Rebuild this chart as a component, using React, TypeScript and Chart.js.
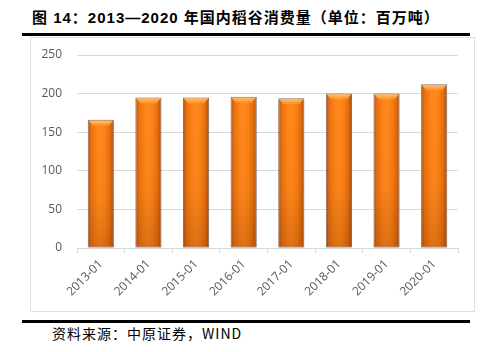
import React, { useEffect, useRef } from "react";
import { Chart, registerables } from "chart.js";

Chart.register(...registerables);

const categories = ["2013-01", "2014-01", "2015-01", "2016-01", "2017-01", "2018-01", "2019-01", "2020-01"];
const consumption = [166, 195, 195, 196, 194, 200, 200, 212];
const yTicks = [0, 50, 100, 150, 200, 250];

const titleText = "图 14：2013—2020 年国内稻谷消费量（单位：百万吨）";
const sourceText = "资料来源：中原证券，WIND";

const BAR_RATIO = 0.55;

const bevelPlugin = {
  id: "bevel",
  afterDatasetsDraw(chart: any) {
    const ctx = chart.ctx;
    const meta = chart.getDatasetMeta(0);
    meta.data.forEach((bar: any) => {
      const { x, y, base, width } = bar.getProps(["x", "y", "base", "width"], true);
      const l = x - width / 2 + 1;
      const r = x + width / 2 - 1;
      ctx.save();
      const vg = ctx.createLinearGradient(0, y, 0, base);
      vg.addColorStop(0, "rgba(120,50,0,0)");
      vg.addColorStop(0.6, "rgba(120,50,0,0.05)");
      vg.addColorStop(1, "rgba(110,40,0,0.25)");
      ctx.fillStyle = vg;
      ctx.fillRect(l, y + 1, r - l, base - y - 1);
      const cap = 5;
      const hg = ctx.createLinearGradient(0, y + 1, 0, y + cap + 1);
      hg.addColorStop(0, "rgba(255,200,120,0.95)");
      hg.addColorStop(1, "rgba(255,150,50,0.6)");
      ctx.fillStyle = hg;
      ctx.beginPath();
      ctx.moveTo(l, y + 1);
      ctx.lineTo(r, y + 1);
      ctx.lineTo(r - 4, y + cap + 1);
      ctx.lineTo(l + 4, y + cap + 1);
      ctx.closePath();
      ctx.fill();
      ctx.restore();
    });
  },
};

export default function App() {
  const canvasRef = useRef<HTMLCanvasElement | null>(null);

  useEffect(() => {
    const canvas = canvasRef.current;
    if (!canvas) return;
    const chart = new Chart(canvas, {
      type: "bar",
      data: {
        labels: categories,
        datasets: [
          {
            data: consumption,
            backgroundColor: (c: any) => {
              const ch = c.chart;
              const xs = ch.scales && ch.scales.x;
              if (!ch.chartArea || !xs) return "#F7801E";
              const cx = xs.getPixelForValue(c.dataIndex);
              const w = (xs.width / categories.length) * BAR_RATIO;
              const g = ch.ctx.createLinearGradient(cx - w / 2, 0, cx + w / 2, 0);
              g.addColorStop(0, "#A94C0C");
              g.addColorStop(0.12, "#E8700F");
              g.addColorStop(0.35, "#FF8418");
              g.addColorStop(0.5, "#FF8A1E");
              g.addColorStop(0.7, "#FB7F14");
              g.addColorStop(0.88, "#DD6A0E");
              g.addColorStop(1, "#9E460A");
              return g;
            },
            borderColor: "rgba(110,85,70,0.85)",
            borderWidth: 1,
            borderSkipped: false,
            categoryPercentage: 1,
            barPercentage: BAR_RATIO,
          },
        ],
      },
      options: {
        animation: false,
        responsive: false,
        maintainAspectRatio: false,
        layout: { padding: { top: 17, right: 16, left: 0, bottom: 0 } },
        plugins: { legend: { display: false }, tooltip: { enabled: false } },
        scales: {
          x: {
            offset: true,
            grid: {
              display: true,
              drawOnChartArea: false,
              drawTicks: true,
              tickLength: 5,
              color: "#D9D9D9",
              offset: true,
            },
            border: { display: true, color: "#D9D9D9" },
            ticks: {
              maxRotation: 45,
              minRotation: 45,
              color: "#595959",
              padding: 4,
              font: { family: "'Open Sans', 'Noto Sans', sans-serif", size: 12 },
            },
            afterFit: (s: any) => {
              s.height = 63;
            },
          },
          y: {
            min: 0,
            max: 250,
            afterBuildTicks: (s: any) => {
              s.ticks = yTicks.map((v) => ({ value: v }));
            },
            grid: { color: "#D9D9D9", drawTicks: true, tickLength: 15, tickColor: "rgba(0,0,0,0)" },
            border: { display: false },
            ticks: {
              color: "#595959",
              padding: 0,
              font: { family: "'Open Sans', 'Noto Sans', sans-serif", size: 12 },
            },
            afterFit: (s: any) => {
              s.width = 46;
            },
          },
        },
      },
      plugins: [bevelPlugin],
    } as any);
    return () => chart.destroy();
  }, []);

  return (
    <div style={{ position: "fixed", left: 0, top: 0, width: 488, height: 352, background: "#fff", overflow: "hidden" }}>
      <div
        style={{
          position: "absolute",
          left: 32,
          top: 8,
          fontFamily: "'Liberation Sans', 'Noto Sans CJK SC', sans-serif",
          fontWeight: "bold",
          fontSize: 15,
          letterSpacing: 1,
          color: "#000",
          whiteSpace: "nowrap",
          lineHeight: "20px",
        }}
      >
        {titleText}
      </div>
      <div style={{ position: "absolute", left: 22, top: 33, width: 448, height: 2.5, background: "#000" }} />
      <div
        style={{
          position: "absolute",
          left: 30,
          top: 37,
          width: 445,
          height: 275,
          border: "1px solid #E0E0E0",
          boxSizing: "border-box",
        }}
      />
      <canvas
        ref={canvasRef}
        width={443}
        height={273}
        style={{ position: "absolute", left: 31, top: 38, width: 443, height: 273 }}
      />
      <div style={{ position: "absolute", left: 22, top: 320, width: 448, height: 2.5, background: "#000" }} />
      <div
        style={{
          position: "absolute",
          left: 52,
          top: 324,
          fontFamily: "'Noto Sans CJK SC', 'Liberation Sans', sans-serif",
          fontSize: 14,
          letterSpacing: 1,
          color: "#000",
          whiteSpace: "nowrap",
          lineHeight: "18px",
        }}
      >
        {sourceText}
      </div>
    </div>
  );
}
